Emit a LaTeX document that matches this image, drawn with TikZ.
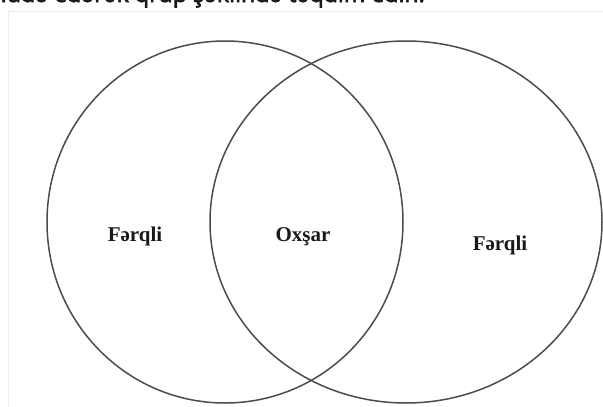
\documentclass[tikz,border=0pt]{standalone}
\usepackage{fontspec}
\setmainfont{Liberation Serif}
\newfontfamily\consignefont[AutoFakeBold=2.5]{Noto Sans}
\usepackage{tikz}
\usetikzlibrary{positioning}

\tikzset{
  ensemble/.style={line width=1.5pt, black!70},
  etiquette/.style={anchor=base, font=\fontsize{21}{25}\selectfont\bfseries, black!90}
}

\begin{document}
\begin{tikzpicture}[x=1pt, y=-1pt]
  \clip (0,0) rectangle (603,407);
  \fill[white] (0,0) rectangle (603,407);
  % Consigne (coupée en haut)
  \node[anchor=base east, inner sep=0pt, font=\consignefont\fontsize{23}{27}\selectfont\bfseries, black!90]
    (consigne) at (425,2) {istifadə edərək qrup şəklində təqdim edin.};
  % Cadre
  \draw[black!8, line width=1pt] (8,407) |- (603,11);
  % Deux ensembles
  \draw[ensemble] (225,222) ellipse[x radius=178pt, y radius=181pt];
  \draw[ensemble] (406,222) ellipse[x radius=196pt, y radius=181pt];
  % Étiquettes
  \node[etiquette] (gauche) at (135,241) {Fərqli};
  \node[etiquette] (commun) at (303,241) {Oxşar};
  \node[etiquette] (droite) at (500,250) {Fərqli};
\end{tikzpicture}
\end{document}
